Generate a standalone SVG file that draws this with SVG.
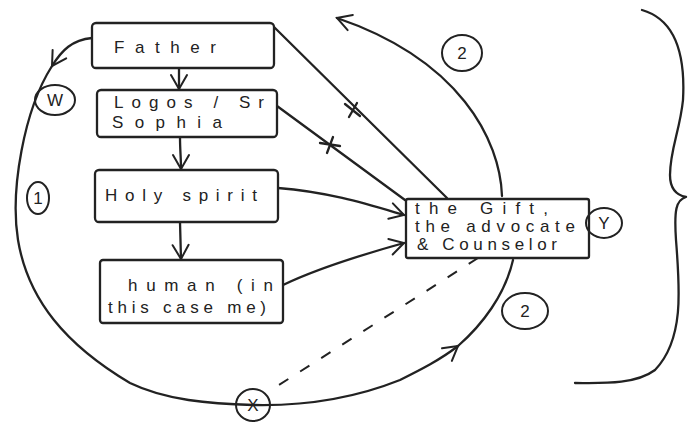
<svg xmlns="http://www.w3.org/2000/svg" width="688" height="423" viewBox="0 0 688 423">
<defs>
<style>
.ln{fill:none;stroke:#222;stroke-width:2.3;stroke-linecap:round;stroke-linejoin:round}
.box{fill:#fff;stroke:#222;stroke-width:2.3}
.t{font-family:"Liberation Sans",Arial,sans-serif;fill:#222;font-size:17px}
.c{fill:none;stroke:#222;stroke-width:2}
.lb{font-family:"Liberation Sans",Arial,sans-serif;fill:#222;font-size:17px;text-anchor:middle}
.dash{fill:none;stroke:#222;stroke-width:2;stroke-dasharray:11 14}
</style>
<marker id="ah" viewBox="0 0 20 20" refX="18" refY="10" markerWidth="20" markerHeight="20" markerUnits="userSpaceOnUse" orient="auto">
<polyline points="4,2 18,10 4,18" fill="none" stroke="#222" stroke-width="2" stroke-linecap="round"/>
</marker>
</defs>
<rect width="688" height="423" fill="#fff"/>
<g id="connectors">
<line class="ln" x1="179" y1="68" x2="179" y2="89" marker-end="url(#ah)"/>
<path class="ln" d="M180,137 C180,150 181,158 181,169" marker-end="url(#ah)"/>
<line class="ln" x1="180" y1="222" x2="181" y2="259" marker-end="url(#ah)"/>
<path class="ln" d="M274,27 L447,198"/>
<path class="ln" d="M345,104 L360,116 M349,117 L357,103"/>
<path class="ln" d="M277,106 L405,200"/>
<path class="ln" d="M320,143 L340,146 M327,153 L333,137"/>
<path class="ln" d="M278,188 C330,192 370,205 404,215" marker-end="url(#ah)"/>
<path class="ln" d="M283,285 C310,272 350,258 404,243" marker-end="url(#ah)"/>
<path class="ln" d="M502,196 C500,140 460,60 337,18" marker-end="url(#ah)"/>
<path class="ln" d="M92,38 C72,40 62,50 52,66" marker-end="url(#ah)"/>
<path class="ln" d="M52,66 C24,110 10,190 18,240 C28,300 66,345 130,383 C165,400 210,404 253,405 C300,406 350,400 400,380 C420,370 440,360 458,346" marker-end="url(#ah)"/>
<path class="ln" d="M458,346 C482,325 505,295 513,260"/>
<path class="dash" d="M478,258 L268,392"/>
<path class="ln" d="M642,10 C670,18 686,45 683,100 C680,130 670,150 670,175 C670,188 676,195 686,197 C676,200 674,210 676,240 C680,290 684,340 655,370 C635,385 600,383 575,383"/>
</g>
<g id="father">
<rect class="box" x="92" y="23" width="182" height="45" rx="4"/>
<text class="t" x="114" y="53" font-size="20" textLength="102" lengthAdjust="spacing">Father</text>
</g>
<g id="logos">
<rect class="box" x="97" y="90" width="180" height="47" rx="4"/>
<text class="t" x="114" y="108" textLength="150" lengthAdjust="spacing">Logos / Sr</text>
<text class="t" x="112" y="128" textLength="110" lengthAdjust="spacing">Sophia</text>
</g>
<g id="holy-spirit">
<rect class="box" x="95" y="170" width="183" height="52" rx="4"/>
<text class="t" x="105" y="201" textLength="152" lengthAdjust="spacing">Holy spirit</text>
</g>
<g id="human">
<rect class="box" x="100" y="260" width="183" height="63" rx="3"/>
<text class="t" x="128" y="291" textLength="145" lengthAdjust="spacing">human (in</text>
<text class="t" x="108" y="313" textLength="158" lengthAdjust="spacing">this case me)</text>
</g>
<g id="girl">
<rect class="box" x="406" y="199" width="183" height="59" rx="2"/>
<text class="t" x="415" y="214" font-size="13" textLength="133" lengthAdjust="spacing">the Gift,</text>
<text class="t" x="415" y="232" font-size="13" textLength="160" lengthAdjust="spacing">the advocate</text>
<text class="t" x="417" y="250" font-size="13" textLength="140" lengthAdjust="spacing">&amp; Counselor</text>
</g>
<g id="label-y">
<ellipse class="c" cx="604" cy="223" rx="18" ry="15" fill="#fff"/>
<text class="lb" x="604" y="229">Y</text>
</g>
<g id="label-w">
<ellipse class="c" cx="55" cy="100" rx="20" ry="15"/>
<text class="lb" x="55" y="106">W</text>
</g>
<g id="label-1">
<ellipse class="c" cx="38" cy="198" rx="11" ry="16"/>
<text class="lb" x="38" y="204">1</text>
</g>
<g id="label-2-top">
<ellipse class="c" cx="462" cy="53" rx="20" ry="18"/>
<text class="lb" x="462" y="59">2</text>
</g>
<g id="label-2-bottom">
<ellipse class="c" cx="525" cy="311" rx="23" ry="18"/>
<text class="lb" x="525" y="317">2</text>
</g>
<g id="label-x">
<ellipse class="c" cx="253" cy="405" rx="17" ry="16" fill="#fff"/>
<text class="lb" x="253" y="411">X</text>
</g>
</svg>
